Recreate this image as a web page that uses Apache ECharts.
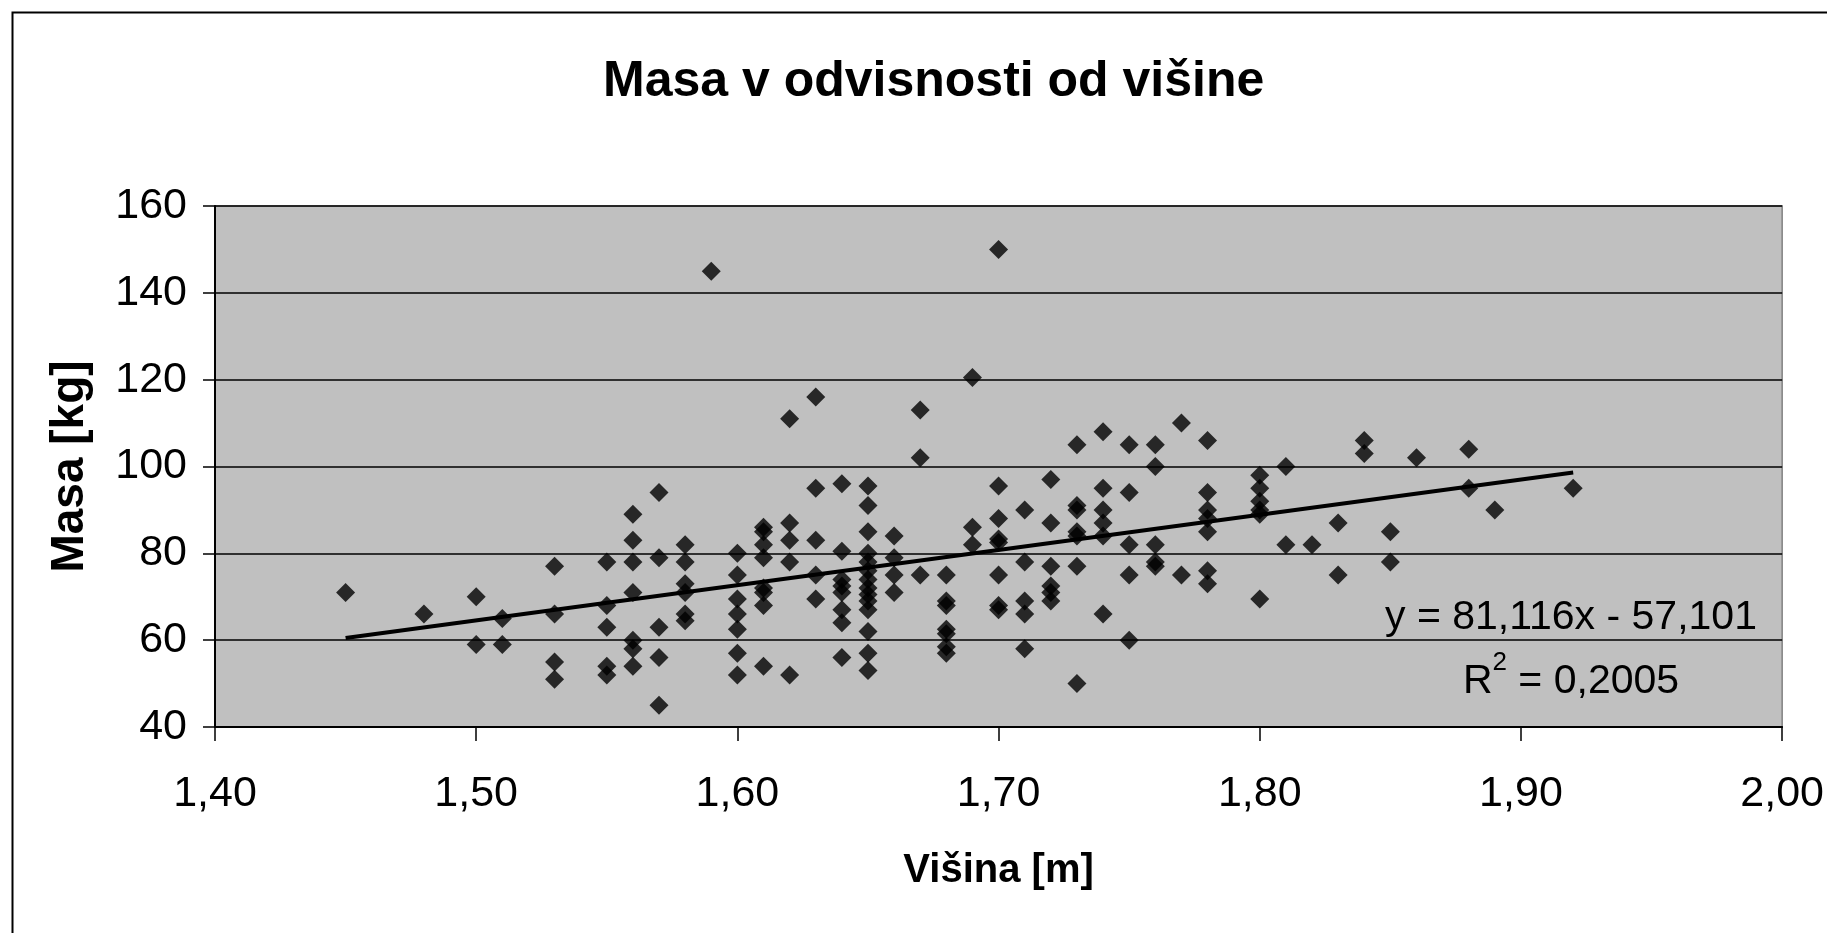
<!DOCTYPE html>
<html>
<head>
<meta charset="utf-8">
<script src="https://cdn.jsdelivr.net/npm/echarts@6/dist/echarts.min.js"></script>
<style>
html,body{margin:0;padding:0;background:#fff;}
#chart{width:1827px;height:933px;}
</style>
</head>
<body>
<div id="chart"></div>
<script>
// Heights (m) and the masses (kg) measured at each height
const heights = [1.45, 1.48, 1.50, 1.51, 1.53, 1.55, 1.56, 1.57, 1.58, 1.59, 1.60, 1.61, 1.62, 1.63, 1.64, 1.65, 1.66, 1.67, 1.68, 1.69, 1.70, 1.71, 1.72, 1.73, 1.74, 1.75, 1.76, 1.77, 1.78, 1.80, 1.81, 1.82, 1.83, 1.84, 1.85, 1.86, 1.88, 1.89, 1.92];
const massesByHeight = [
  [71],
  [66],
  [70, 59],
  [65, 59],
  [77, 66, 55, 51],
  [78, 68, 63, 54, 52],
  [89, 83, 78, 71, 60, 58, 54],
  [94, 79, 63, 56, 45],
  [82, 78, 73, 71, 66, 64.5],
  [145],
  [80, 75, 69.5, 66, 62.5, 57, 52],
  [86, 85, 82, 79, 72, 71, 68, 54],
  [111, 87, 83, 78, 52],
  [116, 95, 83, 75, 69.5],
  [96, 80.5, 74, 72.5, 71, 67, 64, 56],
  [95.5, 91, 85, 80, 78, 76, 74, 72, 70.5, 69, 67, 62, 57, 53],
  [84, 79, 75, 71],
  [113, 102, 75],
  [75, 69, 68, 62.5, 61.5, 58.5, 57],
  [120.5, 86, 82],
  [150, 95.5, 88, 83.3, 82.5, 75, 68, 67],
  [90, 78, 69, 66, 58],
  [97, 87, 77, 72.5, 71, 69],
  [105, 91, 90, 85, 84, 77, 50],
  [108, 95, 90, 87, 84, 66],
  [105, 94, 82, 75, 60],
  [105, 100, 82, 78, 77],
  [110, 75],
  [106, 94, 90, 88, 85, 76, 73],
  [98, 95, 92, 90, 89, 69.5],
  [100, 82],
  [82],
  [87, 75],
  [106, 103],
  [85, 78],
  [102],
  [104, 95],
  [90],
  [95]
];
// Linear trend line (Excel): y = 81,116x - 57,101 drawn between its end points
const trendX = [1.45, 1.92];
const trendY = [60.52, 98.64];
const yTicks = {min: 40, max: 160, step: 20};
const xTicks = {min: 1.4, max: 2.0, step: 0.1};

const points = [];
heights.forEach((h, i) => massesByHeight[i].forEach(m => points.push([h, m])));
const trend = trendX.map((x, i) => [x, trendY[i]]);

const FONT = '"Liberation Sans", Arial, sans-serif';
const chart = echarts.init(document.getElementById('chart'));
chart.setOption({
  backgroundColor: '#ffffff',
  animation: false,
  title: {
    text: 'Masa v odvisnosti od višine',
    left: 598,
    top: 52,
    textStyle: {fontFamily: FONT, fontWeight: 'bold', fontSize: 50, color: '#000'}
  },
  grid: {left: 215, right: 43, top: 206, bottom: 206, show: true, backgroundColor: '#c0c0c0', borderColor: '#808080', borderWidth: 1.5},
  xAxis: {
    type: 'value',
    min: xTicks.min, max: xTicks.max, interval: xTicks.step,
    name: 'Višina [m]',
    nameLocation: 'middle',
    nameGap: 124,
    nameTextStyle: {fontFamily: FONT, fontWeight: 'bold', fontSize: 40, color: '#000'},
    axisLine: {onZero: false, lineStyle: {color: '#000', width: 2}},
    axisTick: {show: true, length: 14, inside: false, lineStyle: {color: '#000', width: 1.5}},
    axisLabel: {fontFamily: FONT, fontSize: 43, color: '#000', margin: 46, showMaxLabel: true,
      formatter: v => v.toFixed(2).replace('.', ',')},
    splitLine: {show: false}
  },
  yAxis: {
    type: 'value',
    min: yTicks.min, max: yTicks.max, interval: yTicks.step,
    name: 'Masa [kg]',
    nameLocation: 'middle',
    nameGap: 122,
    nameRotate: 90,
    nameTextStyle: {fontFamily: FONT, fontWeight: 'bold', fontSize: 46, color: '#000'},
    axisLine: {show: true, lineStyle: {color: '#000', width: 2}},
    axisTick: {show: true, length: 12, lineStyle: {color: '#000', width: 1.5}},
    axisLabel: {fontFamily: FONT, fontSize: 43, color: '#000', margin: 28},
    splitLine: {show: true, lineStyle: {color: '#000', width: 1.5}}
  },
  series: [
    {
      type: 'scatter',
      data: points,
      symbol: 'diamond',
      symbolSize: 19,
      itemStyle: {color: '#000'},
      z: 3
    },
    {
      type: 'line',
      data: trend,
      symbol: 'none',
      lineStyle: {color: '#000', width: 4},
      z: 2
    }
  ],
  graphic: [
    {
      type: 'rect',
      left: 10, top: 10,
      shape: {x: 0, y: 0, width: 1900, height: 1000},
      style: {fill: 'none', stroke: '#000', lineWidth: 2},
      silent: true, z: -10
    },
    {
      type: 'text',
      x: 1571, y: 586,
      style: {
        text: '{n|y = 81,116x - 57,101}\n{n|R}{s|2}{n| = 0,2005}',
        align: 'center',
        fill: '#000',
        rich: {
          n: {fontFamily: FONT, fontSize: 41, lineHeight: 64, fill: '#000'},
          s: {fontFamily: FONT, fontSize: 26, lineHeight: 64, fill: '#000', verticalAlign: 'top', padding: [0, 0, 22, 0]}
        }
      },
      z: 10
    }
  ]
});
</script>
</body>
</html>
